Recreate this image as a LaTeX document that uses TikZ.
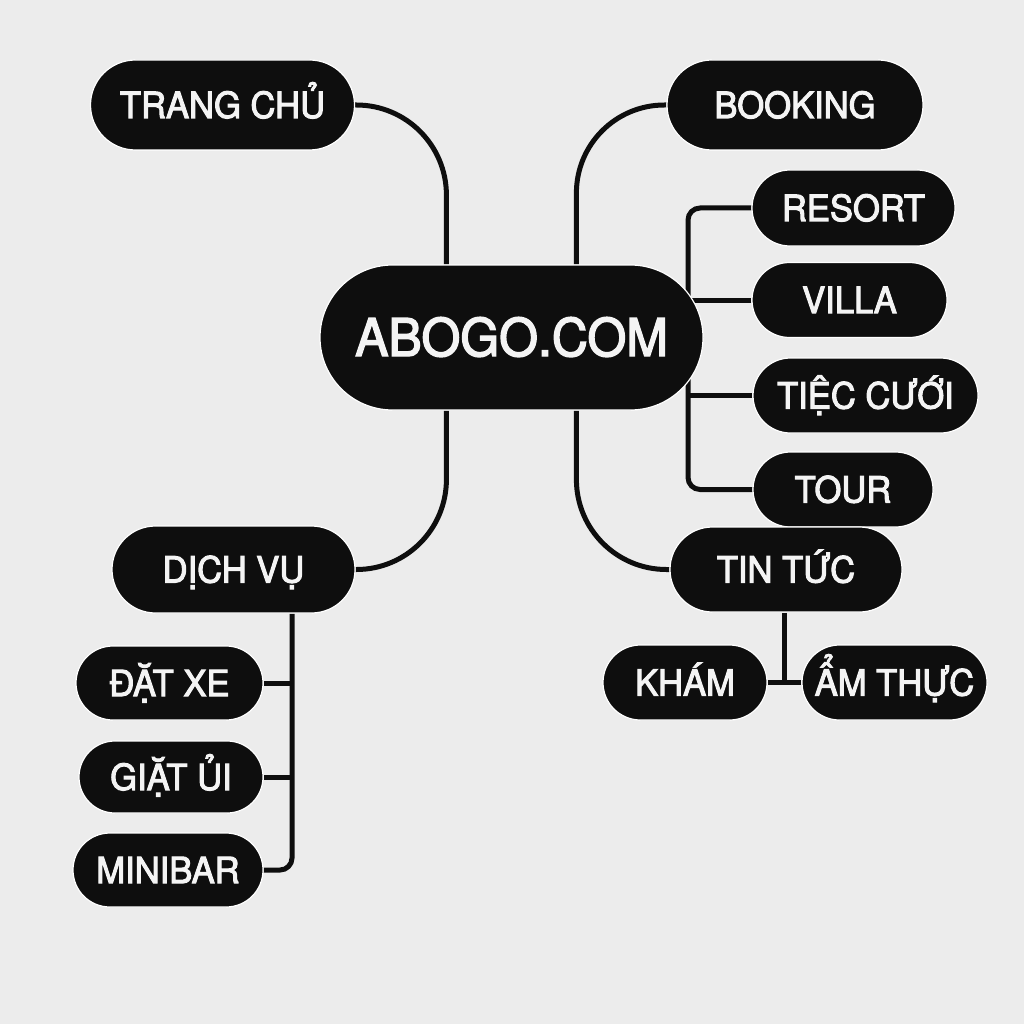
\documentclass[tikz,border=0pt]{standalone}
\usepackage{fontspec}
\setmainfont{TeX Gyre Heros}[FakeStretch=0.96, FakeBold=2.8]
\usetikzlibrary{backgrounds}
\definecolor{bg}{HTML}{ECECEC}
\definecolor{pillfill}{HTML}{0E0E0E}
\definecolor{pilltext}{HTML}{F4F4F4}
\tikzset{
  pill/.style 2 args={rectangle, inner sep=0pt, minimum width=#1pt, minimum height=#2pt,
    rounded corners=#2*0.5pt, fill=pillfill, draw=white, line width=1.2pt,
    text=pilltext, font=\fontsize{36}{40}\selectfont, text height=26pt, text depth=0pt},
  bigpill/.style 2 args={pill={#1}{#2}, font=\fontsize{52}{56}\selectfont, text height=37pt},
  link/.style={draw=pillfill, line width=5pt},
}
\begin{document}
\begin{tikzpicture}[x=1pt,y=-1pt]
\useasboundingbox (0,0) rectangle (1024,1024);
% nodes
\node[bigpill={383}{145}] (abogo) at (511.5,337.5) {ABOGO.COM};
\node[pill={264}{90}] (trang) at (222.5,105) {TRANG CHỦ};
\node[pill={256}{90}] (booking) at (795,105) {BOOKING};
\node[pill={203}{76}] (resort) at (853.5,208) {RESORT};
\node[pill={195}{75}] (villa) at (849.5,300) {VILLA};
\node[pill={225}{75}] (tiec) at (865.5,395.5) {TIỆC CƯỚI};
\node[pill={180}{75}] (tour) at (843,489.5) {TOUR};
\node[pill={232}{85}] (tintuc) at (786,569.5) {TIN TỨC};
\node[pill={243}{87}] (dichvu) at (233.5,569.5) {DỊCH VỤ};
\node[pill={187}{74}] (datxe) at (169.5,683) {ĐẶT XE};
\node[pill={184}{72}] (giat) at (171,777) {GIẶT ỦI};
\node[pill={190}{74}] (minibar) at (168,870) {MINIBAR};
\node[pill={164}{75}] (kham) at (685,682.5) {KHÁM};
\node[pill={185}{75}] (amthuc) at (894.5,682.5) {ẨM THỰC};
\coordinate (busR) at (688,0);
\coordinate (busL) at (292,0);
\coordinate (busT) at (784,0);
% connectors
\begin{scope}[on background layer]
\fill[bg] (0,0) rectangle (1024,1024);
\draw[link, rounded corners=90pt] (trang.east) -| ([xshift=127pt]abogo.north west);
\draw[link, rounded corners=88pt] (booking.west) -| ([xshift=257pt]abogo.north west);
\draw[link, rounded corners=90pt] ([xshift=127pt]abogo.south west) |- (dichvu.east);
\draw[link, rounded corners=90pt] ([xshift=257pt]abogo.south west) |- (tintuc.west);
\draw[link, rounded corners=12pt] (resort.west) -| (busR |- tour.west) -- (tour.west);
\draw[link] (villa.west) -- (villa.west -| busR);
\draw[link] (tiec.west) -- (tiec.west -| busR);
\draw[link, rounded corners=12pt] (dichvu.south -| busL) |- (minibar.east);
\draw[link] (datxe.east) -- (datxe.east -| busL);
\draw[link] (giat.east) -- (giat.east -| busL);
\draw[link] (tintuc.south -| busT) -- (kham.east -| busT);
\draw[link] (kham.east) -- (amthuc.west);
\end{scope}
\end{tikzpicture}
\end{document}
